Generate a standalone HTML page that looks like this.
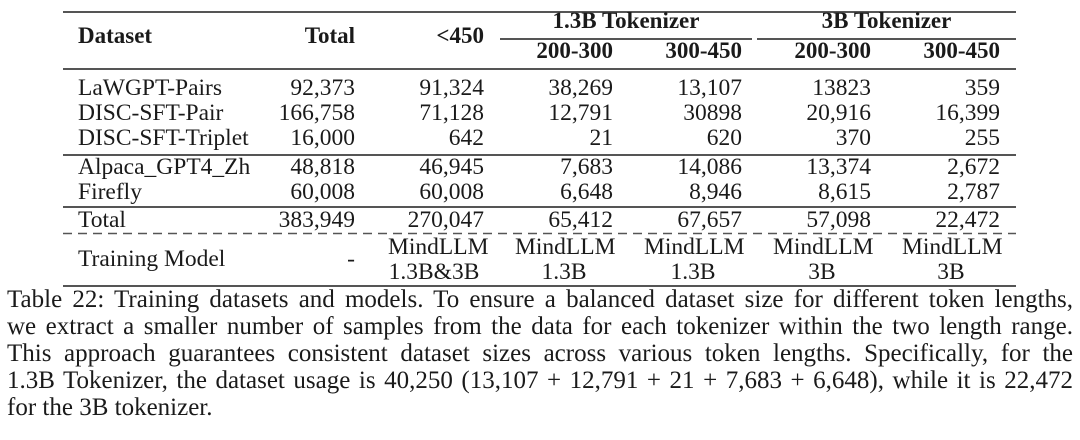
<!DOCTYPE html>
<html><head><meta charset="utf-8"><style>
body{margin:0;width:1080px;height:440px;background:#fff;position:relative;overflow:hidden;font-family:"Liberation Serif",serif;color:#1a1a1a}
.t{position:absolute;font-size:23.5px;line-height:26px;white-space:nowrap}
.b{font-weight:bold;font-size:23px}
.r{text-align:right}
.c{text-align:center}
.h{position:absolute;background:#555;height:2px}
.cap{position:absolute;left:7px;width:1066px;font-size:25px;line-height:27px;text-align:justify;text-align-last:justify;white-space:nowrap}
</style></head><body>
<div class="h" style="left:63px;width:953px;top:11px"></div>
<div class="h" style="left:500px;width:252px;top:38px;height:1.5px"></div>
<div class="h" style="left:757px;width:259px;top:38px;height:1.5px"></div>
<div class="h" style="left:63px;width:953px;top:68px"></div>
<div class="h" style="left:63px;width:953px;top:154px;height:1.5px"></div>
<div class="h" style="left:63px;width:953px;top:206px;height:1.5px"></div>
<svg style="position:absolute;left:63px;top:232px" width="953" height="3"><line x1="0" y1="1.5" x2="953" y2="1.5" stroke="#555" stroke-width="1.5" stroke-dasharray="9,6"/></svg>
<div class="h" style="left:63px;width:953px;top:285px"></div>

<div class="t b" style="left:78px;top:23px">Dataset</div>
<div class="t b r" style="right:725px;top:23px">Total</div>
<div class="t b r" style="right:596px;top:23px">&lt;450</div>
<div class="t b c" style="left:500px;width:252px;top:8px">1.3B Tokenizer</div>
<div class="t b c" style="left:757px;width:259px;top:8px">3B Tokenizer</div>
<div class="t b r" style="right:467px;top:38px">200-300</div>
<div class="t b r" style="right:338px;top:38px">300-450</div>
<div class="t b r" style="right:209px;top:38px">200-300</div>
<div class="t b r" style="right:80px;top:38px">300-450</div>

<div id="rows"></div>
<script>
var rows=[
[75,"LaWGPT-Pairs","92,373","91,324","38,269","13,107","13823","359"],
[100,"DISC-SFT-Pair","166,758","71,128","12,791","30898","20,916","16,399"],
[125,"DISC-SFT-Triplet","16,000","642","21","620","370","255"],
[154,"Alpaca_GPT4_Zh","48,818","46,945","7,683","14,086","13,374","2,672"],
[179,"Firefly","60,008","60,008","6,648","8,946","8,615","2,787"],
[207,"Total","383,949","270,047","65,412","67,657","57,098","22,472"]];
var rights=[725,596,467,338,209,80];
var h="";
rows.forEach(function(r){
 h+='<div class="t" style="left:78px;top:'+r[0]+'px">'+r[1]+'</div>';
 for(var i=0;i<6;i++)h+='<div class="t r" style="right:'+rights[i]+'px;top:'+r[0]+'px">'+r[i+2]+'</div>';
});
var sec=["1.3B&amp;3B","1.3B","1.3B","3B","3B"];
for(var i=0;i<5;i++){var rr=rights[i+1];
 h+='<div class="t c" style="right:'+(i==0?rr+4:rr)+'px;width:'+(i==0?92:98)+'px;top:234px">MindLLM</div>';
 h+='<div class="t c" style="right:'+(i==0?rr+4:rr)+'px;width:'+(i==0?92:98)+'px;top:259px">'+sec[i]+'</div>';
}
h+='<div class="t" style="left:78px;top:246px">Training Model</div>';
h+='<div class="t r" style="right:725px;top:246px">-</div>';
document.getElementById("rows").innerHTML=h;
</script>

<div class="cap" style="top:286px">Table 22: Training datasets and models. To ensure a balanced dataset size for different token lengths,</div>
<div class="cap" style="top:313px">we extract a smaller number of samples from the data for each tokenizer within the two length range.</div>
<div class="cap" style="top:340px">This approach guarantees consistent dataset sizes across various token lengths. Specifically, for the</div>
<div class="cap" style="top:367px">1.3B Tokenizer, the dataset usage is 40,250 (13,107 + 12,791 + 21 + 7,683 + 6,648), while it is 22,472</div>
<div class="cap" style="top:394px;text-align-last:left">for the 3B tokenizer.</div>
</body></html>
